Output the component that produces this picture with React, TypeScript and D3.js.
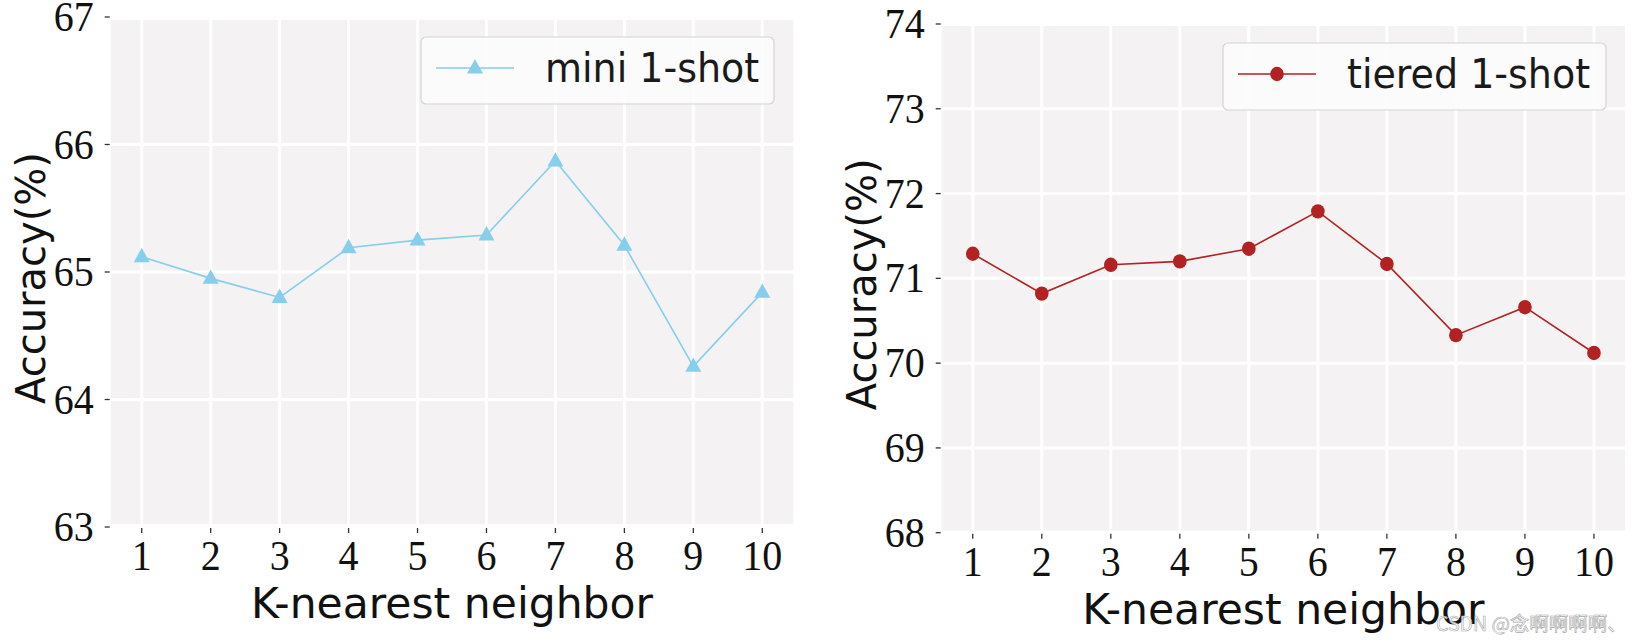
import React from "react";
import * as d3 from "d3";

const kValues = [1, 2, 3, 4, 5, 6, 7, 8, 9, 10];
const miniAcc = [65.12, 64.95, 64.8, 65.19, 65.25, 65.29, 65.87, 65.21, 64.26, 64.84];
const tieredAcc = [71.29, 70.82, 71.16, 71.2, 71.35, 71.79, 71.17, 70.33, 70.66, 70.12];
const miniYTicks = [63, 64, 65, 66, 67];
const tieredYTicks = [68, 69, 70, 71, 72, 73, 74];
const miniLabel = "mini 1-shot";
const tieredLabel = "tiered 1-shot";
const xTitle = "K-nearest neighbor";
const yTitle = "Accuracy(%)";
const watermark = "CSDN @念啊啊啊啊、";

const SERIF = "'Liberation Serif', 'Times New Roman', serif";
const SANS = "'DejaVu Sans', sans-serif";
const SY = 1.07;

type PanelProps = {
  x0: number; x1: number; yTop: number; yBot: number; inset: number;
  yTicks: number[]; values: number[]; color: string; marker: "tri" | "circle";
  label: string; legend: { x: number; y: number; w: number; h: number };
  yTitleX: number;
};

function STxt(props: { x: number; y: number; anchor?: string; size: number; family: string; fill?: string; children: any }) {
  return (
    <text
      transform={`translate(${props.x},${props.y}) scale(1,${SY})`}
      textAnchor={props.anchor || "start"}
      fontSize={props.size}
      fontFamily={props.family}
      fill={props.fill || "#111"}
    >
      {props.children}
    </text>
  );
}

function Panel(p: PanelProps) {
  const x = d3.scaleLinear().domain([0.55, 10.45]).range([p.x0, p.x1]);
  const y = d3.scaleLinear().domain([p.yTicks[0], p.yTicks[p.yTicks.length - 1]]).range([p.yBot, p.yTop]);
  const line = d3.line<number>().x((_, i) => x(kValues[i])).y((v) => y(v));
  const bgTop = p.yTop + p.inset;
  const bgBot = p.yBot - p.inset;
  const triPath = (cx: number, cy: number, s: number) => {
    const h = s * 0.9;
    return `M${cx},${cy - h * 0.62} L${cx + s / 2},${cy + h * 0.38} L${cx - s / 2},${cy + h * 0.38} Z`;
  };
  const mk = (cx: number, cy: number, key: any) =>
    p.marker === "tri" ? (
      <path key={key} d={triPath(cx, cy, 16)} fill={p.color} />
    ) : (
      <ellipse key={key} cx={cx} cy={cy} rx={6.8} ry={7.2} fill={p.color} />
    );
  const L = p.legend;
  const midX = (p.x0 + p.x1) / 2;
  const midY = (bgTop + bgBot) / 2;
  return (
    <g>
      <rect x={p.x0} y={bgTop} width={p.x1 - p.x0} height={bgBot - bgTop} fill="#f4f2f3" />
      {kValues.map((k) => (
        <line key={"gx" + k} x1={x(k)} x2={x(k)} y1={bgTop} y2={bgBot} stroke="#fff" strokeWidth={3} />
      ))}
      {p.yTicks.slice(1, -1).map((t) => (
        <line key={"gy" + t} x1={p.x0} x2={p.x1} y1={y(t)} y2={y(t)} stroke="#fff" strokeWidth={3} />
      ))}
      {p.yTicks.map((t) => (
        <g key={"yt" + t}>
          <line x1={p.x0 - 6} x2={p.x0 - 1} y1={y(t)} y2={y(t)} stroke="#333" strokeWidth={1.3} />
          <STxt x={p.x0 - 17} y={y(t) + 14} anchor="end" size={40} family={SERIF}>{t}</STxt>
        </g>
      ))}
      {kValues.map((k) => (
        <g key={"xt" + k}>
          <line x1={x(k)} x2={x(k)} y1={p.yBot + 1} y2={p.yBot + 6} stroke="#333" strokeWidth={1.3} />
          <STxt x={x(k)} y={p.yBot + 43} anchor="middle" size={40} family={SERIF}>{k}</STxt>
        </g>
      ))}
      <path d={line(p.values) || ""} fill="none" stroke={p.color} strokeWidth={1.6} />
      {p.values.map((v, i) => mk(x(kValues[i]), y(v), i))}
      <rect x={L.x} y={L.y} width={L.w} height={L.h} rx={5} fill="#fcfcfc" fillOpacity={0.9} stroke="#d4d4d4" strokeWidth={1.2} />
      <line x1={L.x + 15} x2={L.x + 93} y1={L.y + 31} y2={L.y + 31} stroke={p.color} strokeWidth={1.6} />
      {mk(L.x + 54, L.y + 31, "lg")}
      <STxt x={L.x + 124} y={L.y + 45} size={38} family={SANS} fill="#1a1a1a">{p.label}</STxt>
      <text x={midX} y={p.yBot + 91} textAnchor="middle" fontSize={42.5} fontFamily={SANS} fill="#111">{xTitle}</text>
      <text
        transform={`translate(${p.yTitleX},${midY + 6}) rotate(-90)`}
        textAnchor="middle"
        fontSize={40}
        fontFamily={SANS}
        fill="#111"
      >
        {yTitle}
      </text>
    </g>
  );
}

export default function App() {
  return (
    <svg width={1636} height={643} style={{ position: "absolute", left: 0, top: 0, background: "#fff" }}>
      <Panel
        x0={110.7} x1={793.3} yTop={17} yBot={527} inset={3}
        yTicks={miniYTicks} values={miniAcc} color="#87ceeb" marker="tri"
        label={miniLabel} legend={{ x: 421, y: 37, w: 353, h: 67 }} yTitleX={45}
      />
      <Panel
        x0={941.7} x1={1625} yTop={24} yBot={532.7} inset={2}
        yTicks={tieredYTicks} values={tieredAcc} color="#b22222" marker="circle"
        label={tieredLabel} legend={{ x: 1223, y: 43, w: 383, h: 67 }} yTitleX={876}
      />
      <text x={1436} y={631} fontSize={19.5} fontFamily="'Noto Sans CJK SC', sans-serif" fill="#fff" fillOpacity={0.85} stroke="#a8a8a8" strokeWidth={0.6}>
        {watermark}
      </text>
    </svg>
  );
}
